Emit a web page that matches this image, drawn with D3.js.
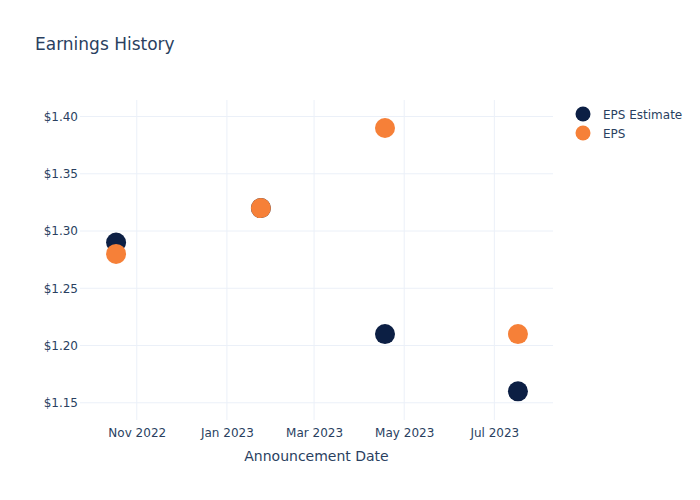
<!DOCTYPE html>
<html>
<head>
<meta charset="utf-8">
<script src="https://cdn.jsdelivr.net/npm/d3@7"></script>
<style>
  html, body { margin: 0; padding: 0; background: #fff; }
  text { font-family: "DejaVu Sans", "Open Sans", sans-serif; fill: #2a3f5f; }
</style>
</head>
<body>
<svg id="chart" width="700" height="500"></svg>
<script>
const dates = ["2022-10-18", "2023-01-24", "2023-04-18", "2023-07-17"];
const epsEstimate = [1.29, 1.32, 1.21, 1.16];
const eps = [1.28, 1.32, 1.39, 1.21];
const yTicks = [1.15, 1.20, 1.25, 1.30, 1.35, 1.40];
const xTicks = ["2022-11-01", "2023-01-01", "2023-03-01", "2023-05-01", "2023-07-01"];
const seriesNames = ["EPS Estimate", "EPS"];
const seriesColors = ["#0c1f44", "#f68038"];

const svg = d3.select("#chart");
const W = 700, H = 500;
const m = { l: 80, r: 147, t: 100, b: 80 };
const parse = d3.utcParse("%Y-%m-%d");

const x = d3.scaleUtc()
  .domain([new Date(Date.UTC(2022, 8, 23, 14)), new Date(Date.UTC(2023, 7, 9, 17))])
  .range([m.l, W - m.r]);
const y = d3.scaleLinear().domain([1.1345, 1.414]).range([H - m.b + 0.5, m.t + 0.5]);

svg.append("rect").attr("width", W).attr("height", H).attr("fill", "#fff");

// gridlines
const g = svg.append("g");
g.selectAll("line.yg").data(yTicks).enter().append("line")
  .attr("x1", m.l).attr("x2", W - m.r)
  .attr("y1", d => y(d)).attr("y2", d => y(d))
  .attr("stroke", "#ebf0f8").attr("stroke-width", 1);
g.selectAll("line.xg").data(xTicks.map(parse)).enter().append("line")
  .attr("y1", m.t).attr("y2", H - m.b)
  .attr("x1", d => x(d)).attr("x2", d => x(d))
  .attr("stroke", "#ebf0f8").attr("stroke-width", 1);

// axes
const yAxis = d3.axisLeft(y).tickValues(yTicks).tickSize(0).tickPadding(2)
  .tickFormat(d => "$" + d3.format(".2f")(d));
svg.append("g").attr("transform", `translate(${m.l},0)`).call(yAxis)
  .call(s => s.select(".domain").remove())
  .selectAll("text").attr("font-size", 12).attr("fill", "#2a3f5f")
  .attr("font-family", "DejaVu Sans, sans-serif");

const xAxis = d3.axisBottom(x).tickValues(xTicks.map(parse)).tickSize(0).tickPadding(8)
  .tickFormat(d3.utcFormat("%b %Y"));
svg.append("g").attr("transform", `translate(0,${H - m.b})`).call(xAxis)
  .call(s => s.select(".domain").remove())
  .selectAll("text").attr("font-size", 12).attr("fill", "#2a3f5f")
  .attr("font-family", "DejaVu Sans, sans-serif");

// title and axis title
svg.append("text").attr("x", 35).attr("y", 50).attr("font-size", 17).text("Earnings History");
svg.append("text").attr("x", (m.l + W - m.r) / 2).attr("y", 461)
  .attr("text-anchor", "middle").attr("font-size", 14).text("Announcement Date");

// points
const series = [epsEstimate, eps];
series.forEach((vals, i) => {
  svg.append("g").selectAll("circle").data(vals).enter().append("circle")
    .attr("cx", (d, j) => x(parse(dates[j])))
    .attr("cy", d => y(d))
    .attr("r", 10)
    .attr("fill", seriesColors[i]);
});

// legend
const leg = svg.append("g");
seriesNames.forEach((name, i) => {
  const yy = 114 + i * 19;
  leg.append("circle").attr("cx", 583).attr("cy", yy).attr("r", 7.5).attr("fill", seriesColors[i]);
  leg.append("text").attr("x", 603).attr("y", yy + 4.5).attr("font-size", 12).text(name);
});
</script>
</body>
</html>
